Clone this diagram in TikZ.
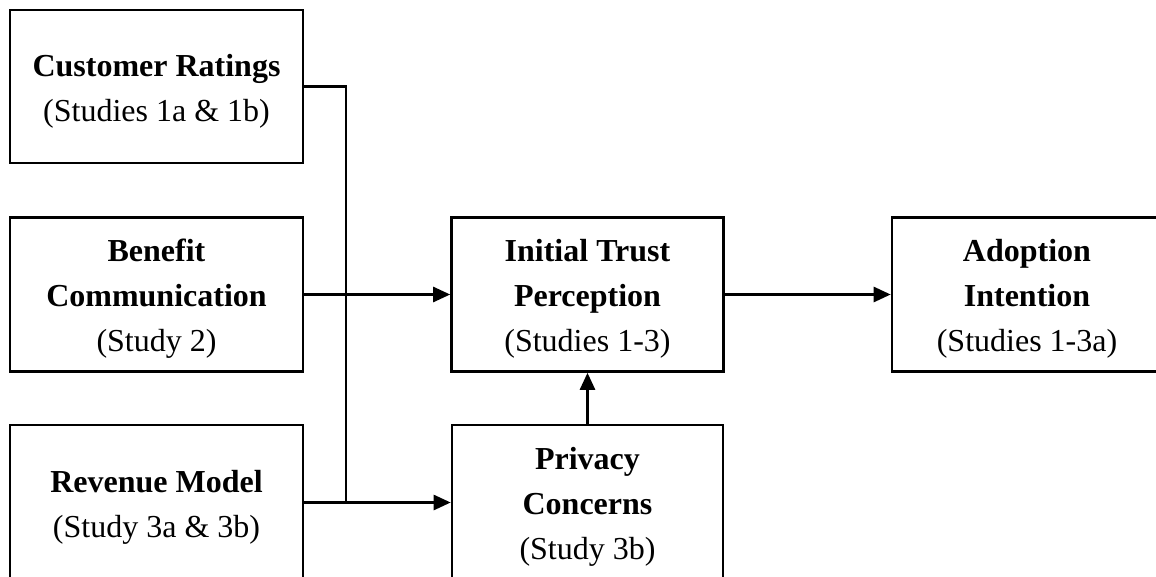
\documentclass[tikz,border=0pt]{standalone}
\usepackage{fontspec}
\setmainfont{Liberation Serif}
\usetikzlibrary{arrows.meta}
\newcommand{\firststrut}{\rule{0pt}{31pt}}

\begin{document}
\begin{tikzpicture}[x=1pt, y=-1pt,
    box/.style={draw, line width=2.6pt, align=center, inner sep=0pt,
      font=\fontsize{32}{45}\selectfont},
    arr/.style={line width=2.6pt, -{Triangle[length=17pt, width=15pt]}}]
  \useasboundingbox (0,0) rectangle (1156,577);
  \clip (0,0) rectangle (1156,577);
  \node [box, minimum width=293pt, minimum height=153pt] (cust) at (156.5,86.5) {\firststrut\textbf{Customer Ratings}\\(Studies 1a \& 1b)};
  \node [box, minimum width=293pt, minimum height=154pt] (bene) at (156.5,294.5) {\firststrut\textbf{Benefit}\\\textbf{Communication}\\(Study 2)};
  \node [box, minimum width=293pt, minimum height=155pt] (reve) at (156.5,502.5) {\firststrut\textbf{Revenue Model}\\(Study 3a \& 3b)};
  \node [box, minimum width=272pt, minimum height=154pt] (trust) at (587.5,294.5) {\firststrut\textbf{Initial Trust}\\\textbf{Perception}\\(Studies 1-3)};
  \node [box, minimum width=271pt, minimum height=155pt] (priv) at (587.5,502.5) {\firststrut\textbf{Privacy}\\\textbf{Concerns}\\(Study 3b)};
  \node [box, minimum width=270pt, minimum height=154pt] (adopt) at (1027,294.5) {\firststrut\textbf{Adoption}\\\textbf{Intention}\\(Studies 1-3a)};
  \coordinate (joint) at (346,502.5);
  \draw [line width=2.6pt] (cust.east) -| (joint);
  \draw [arr] (reve.east) -- (priv.west);
  \draw [arr] (bene.east) -- (trust.west);
  \draw [arr] (priv.north) -- (trust.south);
  \draw [arr] (trust.east) -- (adopt.west);
\end{tikzpicture}
\end{document}
